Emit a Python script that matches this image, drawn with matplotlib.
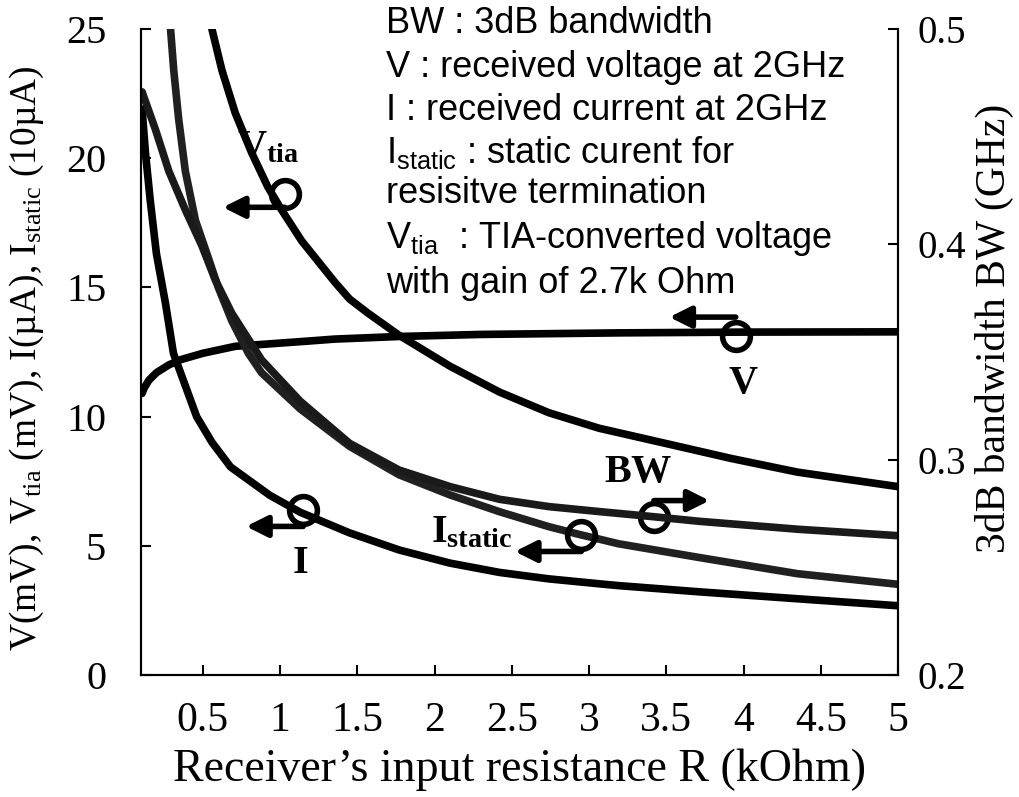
import matplotlib
matplotlib.use("Agg")
import matplotlib.pyplot as plt

plt.rcParams['font.family'] = ['Liberation Serif', 'DejaVu Serif']
plt.rcParams['mathtext.fontset'] = 'custom'
plt.rcParams['mathtext.rm'] = 'Liberation Serif'
plt.rcParams['mathtext.it'] = 'Liberation Serif:italic'
plt.rcParams['mathtext.bf'] = 'Liberation Serif:bold'
plt.rcParams['mathtext.sf'] = 'Liberation Sans'

# data (R in kOhm)
v_r = [0.107, 0.12, 0.15, 0.2, 0.28, 0.355, 0.5, 0.71, 1.13, 1.355, 1.77, 2.3, 3.19, 4.0, 5.0]
v_mv = [10.9, 11.1, 11.4, 11.7, 12.0, 12.2, 12.45, 12.72, 12.9, 13.0, 13.1, 13.18, 13.24,
        13.27, 13.28]

vtia_r = [0.559, 0.624, 0.71, 0.817, 0.92, 1.01, 1.14, 1.355, 1.45, 1.57, 1.77, 2.10, 2.42,
          2.74, 3.065, 3.49, 3.92, 4.35, 5.0]
vtia_mv = [25.0, 23.4, 21.75, 20.2, 18.9, 18.0, 16.8, 15.2, 14.55, 14.0, 13.15, 11.95,
           10.95, 10.15, 9.55, 8.97, 8.38, 7.85, 7.29]

i_r = [0.107, 0.129, 0.161, 0.20, 0.258, 0.31, 0.46, 0.56, 0.68, 0.935, 1.13, 1.45, 1.77,
       2.10, 2.42, 2.74, 3.065, 3.19, 3.71, 4.35, 5.0]
i_ua = [21.9, 20.2, 18.3, 16.3, 14.4, 12.45, 10.0, 9.0, 8.05, 6.95, 6.3, 5.5, 4.84, 4.33,
        3.97, 3.72, 3.53, 3.46, 3.22, 2.95, 2.68]

istat_r = [0.29, 0.312, 0.344, 0.387, 0.452, 0.527, 0.60, 0.688, 0.795, 0.88, 1.13, 1.45,
           1.77, 2.10, 2.42, 2.74, 2.95, 3.065, 3.19, 3.71, 4.35, 5.0]
istat_10ua = [25.1, 23.4, 21.5, 19.5, 17.6, 16.3, 15.0, 13.7, 12.45, 11.7, 10.3, 8.85,
              7.75, 6.97, 6.32, 5.74, 5.42, 5.26, 5.08, 4.55, 3.92, 3.51]

bw_r = [0.107, 0.194, 0.28, 0.387, 0.495, 0.58, 0.688, 0.795, 0.88, 1.13, 1.45, 1.77, 2.10,
        2.42, 2.74, 3.065, 3.39, 3.71, 4.35, 5.0]
bw_ghz = [0.4708, 0.4532, 0.434, 0.416, 0.3992, 0.3836, 0.368, 0.356, 0.3464, 0.3272,
          0.3076, 0.2952, 0.2875, 0.2816, 0.2782, 0.2759, 0.2737, 0.2714, 0.2677, 0.2647]

xticks = [0.5, 1, 1.5, 2, 2.5, 3, 3.5, 4, 4.5, 5]
xtick_labels = ['0.5', '1', '1.5', '2', '2.5', '3', '3.5', '4', '4.5', '5']
yticks = [0, 5, 10, 15, 20, 25]
bw_ticks = [0.2, 0.3, 0.4, 0.5]

notes = [
    'BW : 3dB bandwidth',
    'V : received voltage at 2GHz',
    'I : received current at 2GHz',
    r'$\mathsf{I_{static}}$ : static curent for',
    'resisitve termination',
    r'$\mathsf{V_{tia}}$  : TIA-converted voltage',
    'with gain of 2.7k Ohm',
]

fig = plt.figure(figsize=(10.2, 7.97), dpi=100)
ax = fig.add_axes([141/1020, 1-675/797, (898-141)/1020, (675-29)/797])
ax2 = ax.twinx()

lw = 5.5
ax.plot(v_r, v_mv, color='k', lw=lw, solid_capstyle='round', solid_joinstyle='round')
ax.plot(vtia_r, vtia_mv, color='k', lw=lw, solid_capstyle='round', solid_joinstyle='round')
ax.plot(i_r, i_ua, color='k', lw=lw, solid_capstyle='round', solid_joinstyle='round')
ax.plot(istat_r, istat_10ua, color='#202020', lw=lw, solid_capstyle='round',
        solid_joinstyle='round')
ax2.plot(bw_r, bw_ghz, color='#1a1a1a', lw=lw, solid_capstyle='round', solid_joinstyle='round')

ax.set_xlim(0.1, 5)
ax.set_ylim(0, 25)
ax2.set_ylim(0.2, 0.5)

for a in (ax, ax2):
    a.spines['top'].set_visible(False)
    for s in ('left', 'right', 'bottom'):
        a.spines[s].set_linewidth(1.5)

ax.set_xticks(xticks)
ax.set_xticklabels(xtick_labels)
ax.set_yticks(yticks)
ax2.set_yticks(bw_ticks)
ax2.set_yticklabels(['0.2', '0.3', '0.4', '0.5'])
ax.tick_params(axis='x', direction='in', length=7, width=1.5, labelsize=30, pad=19)
ax.tick_params(axis='y', direction='in', length=7, width=1.5, labelsize=29, pad=25)
ax2.tick_params(axis='y', direction='in', length=7, width=1.5, labelsize=28, pad=14)

ax.set_xlabel("Receiver\u2019s input resistance R (kOhm)", fontsize=33, labelpad=6)
ax.set_ylabel(r'V(mV), V$_{\mathrm{tia}}$ (mV), I(µA), I$_{\mathrm{static}}$ (10µA)', fontsize=27)
ax.yaxis.set_label_coords(-0.125, 0.49)
ax2.set_ylabel('3dB bandwidth BW (GHz)', fontsize=30)
ax2.yaxis.set_label_coords(1.102, 0.537)

# explanatory notes
note_y = [24.85, 23.14, 21.48, 19.81, 18.27, 16.52, 14.78]
for txt, yy in zip(notes, note_y):
    ax.text(1.684, yy, txt, fontsize=26, family=['Liberation Sans', 'DejaVu Sans'],
            va='baseline', ha='left', clip_on=False)

# curve markers with arrows
def tag(a, cx, cy, hx, hy, tx, ty, label):
    a.plot([cx], [cy], 'o', ms=20, mfc='none', mec='k', mew=4, zorder=5)
    a.annotate('', xy=(hx, hy), xytext=(cx, hy),
               arrowprops=dict(arrowstyle='-|>', lw=4, color='k', mutation_scale=32,
                               shrinkA=0, shrinkB=0))
    a.text(tx, ty, label, fontsize=29, ha='center', va='center')

tag(ax, 1.03, 18.6, 0.63, 18.1, 0.92, 20.4, r'$\mathbf{V_{tia}}$')
tag(ax, 1.15, 6.4, 0.78, 5.75, 1.13, 4.3, r'$\mathbf{I}$')
tag(ax, 2.95, 5.42, 2.52, 4.78, 2.24, 5.5, r'$\mathbf{I_{static}}$')
tag(ax, 3.42, 6.11, 3.78, 6.75, 3.32, 7.85, r'$\mathbf{BW}$')
tag(ax, 3.95, 13.1, 3.52, 13.85, 4.0, 11.3, r'$\mathbf{V}$')

fig.savefig('out.png', dpi=100)
